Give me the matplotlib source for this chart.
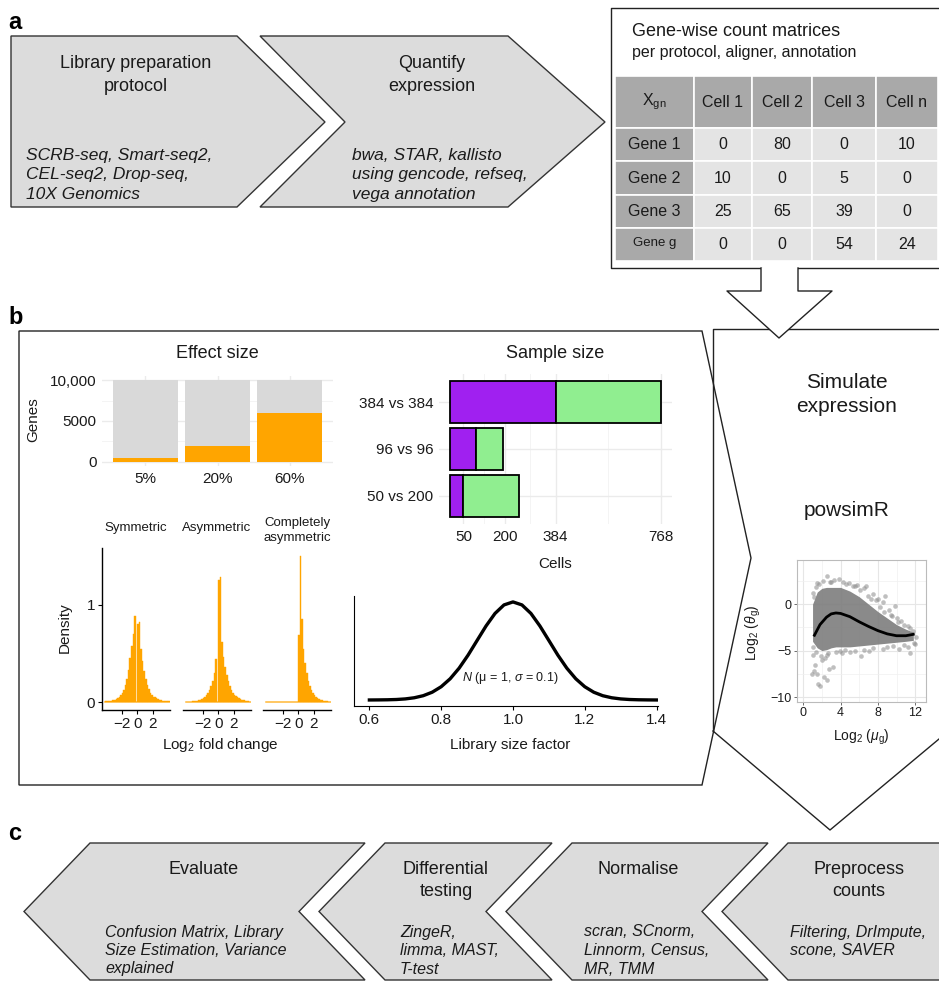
import matplotlib.pyplot as plt
from matplotlib.patches import Polygon, Rectangle
import numpy as np

plt.rcParams['font.family'] = ['Liberation Sans', 'DejaVu Sans']
plt.rcParams['mathtext.fontset'] = 'custom'
plt.rcParams['mathtext.rm'] = 'Liberation Sans'
plt.rcParams['mathtext.it'] = 'Liberation Sans:italic'
plt.rcParams['mathtext.bf'] = 'Liberation Sans:bold'

W, H = 939, 982
TXT = '#1a1a1a'
ORANGE = '#ffa500'
BOX = '#dcdcdc'

# ---- panel a: workflow steps and count table ----
a_titles = [['Library preparation', 'protocol'], ['Quantify', 'expression']]
a_tools = [['SCRB-seq, Smart-seq2,', 'CEL-seq2, Drop-seq,', '10X Genomics'],
           ['bwa, STAR, kallisto', 'using gencode, refseq,', 'vega annotation']]

cell_names = ['Cell 1', 'Cell 2', 'Cell 3', 'Cell n']
gene_names = ['Gene 1', 'Gene 2', 'Gene 3', 'Gene g']
counts = [[0, 80, 0, 10],
          [10, 0, 5, 0],
          [25, 65, 39, 0],
          [0, 0, 54, 24]]

# ---- panel b: effect size ----
effect_labels = ['5%', '20%', '60%']
de_genes = [500, 2000, 6000]
n_genes = 10000

# ---- panel b: sample size ----
sample_labels = ['50 vs 200', '96 vs 96', '384 vs 384']
group1 = [50, 96, 384]
group2 = [200, 96, 384]
cell_ticks = [50, 200, 384, 768]

# ---- panel b: log2 fold change densities ----
fc_types = ['Symmetric', 'Asymmetric', 'Completely\nasymmetric']
fc_bins = np.round(np.arange(-4.1, 4.11, 0.2), 1)
fc_sym = [0.01, 0.01, 0.012, 0.015, 0.018, 0.022, 0.028, 0.035, 0.045, 0.06, 0.08,
          0.1, 0.13, 0.18, 0.24, 0.33, 0.45, 0.58, 0.7, 0.88, 0.0,
          0.8, 0.82, 0.55, 0.42, 0.32, 0.24, 0.18, 0.14, 0.1, 0.08, 0.06,
          0.05, 0.04, 0.032, 0.026, 0.021, 0.017, 0.014, 0.012, 0.01, 0.01]
fc_asym = [0.005, 0.006, 0.007, 0.008, 0.01, 0.012, 0.015, 0.018, 0.022, 0.028, 0.035,
           0.045, 0.06, 0.08, 0.1, 0.13, 0.17, 0.22, 0.3, 0.44, 0.0,
           1.25, 1.28, 0.62, 0.46, 0.36, 0.28, 0.22, 0.17, 0.13, 0.1, 0.08,
           0.065, 0.05, 0.04, 0.032, 0.026, 0.02, 0.016, 0.013, 0.01, 0.008]
fc_comp = [0.0] * 21 + [0.69, 1.5, 0.85, 0.55, 0.4, 0.3, 0.22, 0.17, 0.13, 0.1, 0.08,
                        0.06, 0.045, 0.035, 0.027, 0.02, 0.015, 0.012, 0.01, 0.008, 0.006]

# ---- panel b: library size factor N(1, 0.1) ----
lib_x = np.linspace(0.6, 1.4, 33)
lib_density = [0.001, 0.004, 0.009, 0.020, 0.044, 0.091, 0.175, 0.317, 0.540, 0.863,
               1.295, 1.826, 2.420, 3.011, 3.521, 3.867, 3.989, 3.867, 3.521, 3.011,
               2.420, 1.826, 1.295, 0.863, 0.540, 0.317, 0.175, 0.091, 0.044, 0.020,
               0.009, 0.004, 0.001]

# ---- powsimR mean-dispersion ----
cloud_x = [1.0, 1.5, 2, 2.5, 3, 3.5, 4, 5, 6, 7, 8, 9, 10, 11, 11.8]
cloud_hi = [0.0, 1.3, 1.7, 1.8, 1.8, 1.8, 1.8, 1.4, 0.8, 0.0, -0.8, -1.5, -2.2, -2.7, -3.0]
cloud_lo = [-4.0, -4.7, -5.0, -4.9, -4.7, -4.6, -4.6, -4.6, -4.5, -4.4, -4.3, -4.2, -4.1, -4.0, -3.9]
out_x = [1.0, 1.3, 1.5, 1.6, 1.8, 2.0, 2.2, 2.5, 2.3, 2.8, 3.2, 1.2, 0.9, 2.7, 3.5, 4.2,
         5.0, 6.2, 7.0, 8.5, 10.3, 11.5, 11.2, 12.0, 2.5, 3.8, 4.6, 5.8, 6.5, 7.5, 8.0,
         8.5, 9.2, 9.5, 10.5, 11.2, 11.8, 1.5, 6.7, 9.8, 8.8, 1.1, 3.0, 5.5, 7.8, 10.0,
         1.2, 1.4, 1.7, 2.1, 2.9, 3.3, 4.3, 4.9, 5.3, 6.1, 6.9, 7.3, 8.2, 8.7, 9.4, 10.2,
         10.8, 11.5, 1.1, 1.4, 1.9, 2.6, 3.9, 4.5, 5.6, 6.5, 7.5, 9.0, 9.6, 10.8, 11.9, 12.1]
out_y = [-5.5, -6.5, -7.5, -8.6, -8.8, -6.0, -7.8, -8.2, -5.8, -7.0, -6.8, -7.2, -7.5,
         -5.3, -5.2, -5.3, -5.1, -5.6, -5.0, -4.8, -4.8, -5.3, -4.6, -4.3, 3.0, 2.7, 2.2,
         2.1, 1.7, 1.1, 0.6, 0.2, -0.6, -1.3, -1.8, -2.3, -2.9, 2.3, 2.0, -0.2, 0.9,
         1.2, 2.4, 2.0, 0.4, -1.5,
         0.8, 1.8, 2.2, 2.5, 2.4, 2.6, 2.4, 2.3, 1.9, 1.5, 0.9, 0.5, -0.3, -0.8, -1.2, -1.9,
         -2.2, -2.6, -4.6, -5.2, -5.6, -5.5, -5.0, -4.9, -5.0, -4.9, -4.7, -4.6, -4.5, -4.4,
         -4.2, -3.5]
trend_x = [1.2, 1.8, 2.5, 3, 3.5, 4, 5, 6, 7, 8, 9, 10, 11, 11.8]
trend_y = [-3.35, -2.2, -1.4, -1.05, -0.95, -1.0, -1.35, -1.9, -2.4, -2.85, -3.2, -3.4, -3.4, -3.25]

# ---- panel c ----
c_titles = [['Evaluate'], ['Differential', 'testing'], ['Normalise'], ['Preprocess', 'counts']]
c_tools = [['Confusion Matrix, Library', 'Size Estimation, Variance', 'explained'],
           ['ZingeR,', 'limma, MAST,', 'T-test'],
           ['scran, SCnorm,', 'Linnorm, Census,', 'MR, TMM'],
           ['Filtering, DrImpute,', 'scone, SAVER']]

fig = plt.figure(figsize=(W / 100, H / 100), dpi=100)
bg = fig.add_axes([0, 0, 1, 1])
bg.set_xlim(0, W)
bg.set_ylim(H, 0)
bg.axis('off')


def place(x0, y0, x1, y1):
    ax = fig.add_axes([x0 / W, 1 - y1 / H, (x1 - x0) / W, (y1 - y0) / H])
    ax.patch.set_alpha(0)
    return ax


def write(x, y, s, size=13, ha='center', **kw):
    bg.text(x, y, s, fontsize=size, ha=ha, va='center', color=TXT, **kw)


# panel letters
for lab, y in [('a', 22), ('b', 317), ('c', 833)]:
    bg.text(8, y, lab, fontsize=17, fontweight='bold', va='center', ha='left')

# panel a arrows
arrows_a = [[(11, 36), (237, 36), (325, 122), (237, 207), (11, 207)],
            [(260, 36), (508, 36), (605, 122), (508, 207), (260, 207), (345, 122)]]
centers_a = [136, 432]
lefts_a = [26, 352]
for k, pts in enumerate(arrows_a):
    bg.add_patch(Polygon(pts, closed=True, fc=BOX, ec='#333333', lw=1.0))
    for j, line in enumerate(a_titles[k]):
        write(centers_a[k], 63 + 23 * j, line)
    for j, line in enumerate(a_tools[k]):
        write(lefts_a[k], 155 + 19.5 * j, line, size=12.5, ha='left', style='italic')

# count table
bg.plot([761, 611, 611, 945, 945, 798], [268, 268, 8, 8, 268, 268], color='#222222', lw=1.0)
write(632, 31, 'Gene-wise count matrices', ha='left')
write(632, 52, 'per protocol, aligner, annotation', size=11.5, ha='left')
col_edges = [615, 694, 752, 812, 876, 938]
row_edges = [76, 128, 161, 195, 228, 261]
for r in range(5):
    for c in range(5):
        dark = r == 0 or c == 0
        bg.add_patch(Rectangle((col_edges[c], row_edges[r]), col_edges[c + 1] - col_edges[c],
                               row_edges[r + 1] - row_edges[r],
                               fc='#a9a9a9' if dark else '#e4e4e4', ec='white', lw=1.2))
        xc = (col_edges[c] + col_edges[c + 1]) / 2
        yc = (row_edges[r] + row_edges[r + 1]) / 2
        if r == 0 and c == 0:
            write(xc, yc, r'X$_\mathregular{gn}$', size=11.5)
        elif r == 0:
            write(xc, yc, cell_names[c - 1], size=11.5)
        elif c == 0:
            write(xc, yc - 2 if r == 4 else yc, gene_names[r - 1], size=9.5 if r == 4 else 11.5)
        else:
            write(xc, yc, str(counts[r - 1][c - 1]), size=11.5)

# arrow from table into simulation box
bg.plot([713, 713, 945], [731, 329, 329], color='#222222', lw=1.0)
bg.plot([713, 830, 945], [731, 830, 734], color='#222222', lw=1.0)
ax_pts = [(761, 268), (761, 291), (727, 291), (779, 338), (832, 291), (798, 291), (798, 268)]
bg.add_patch(Polygon(ax_pts, closed=True, fc='white', ec='none', zorder=5))
bg.plot([p[0] for p in ax_pts], [p[1] for p in ax_pts], color='#222222', lw=1.0, zorder=6)

# panel b outline
bg.add_patch(Polygon([(19, 331), (702, 331), (751, 558), (702, 785), (19, 785)],
                     closed=True, fill=False, ec='#222222', lw=1.0))

write(847, 382, 'Simulate', size=15)
write(847, 407, 'expression', size=15)
write(847, 510, 'powsimR', size=15)

# effect size bars
ax = place(102, 376, 333, 466)
pos = [1, 2, 3]
for y in [0, 5000, 10000]:
    ax.axhline(y, color='#ebebeb', lw=1.0, zorder=0)
for y in [2500, 7500]:
    ax.axhline(y, color='#f2f2f2', lw=0.6, zorder=0)
for x in pos:
    ax.axvline(x, color='#ebebeb', lw=1.0, zorder=0)
ax.bar(pos, [n_genes] * 3, width=0.9, color='#d9d9d9', zorder=2)
ax.bar(pos, de_genes, width=0.9, color=ORANGE, zorder=3)
ax.set_xlim(0.4, 3.6)
ax.set_ylim(-500, 10500)
ax.set_yticks([0, 5000, 10000])
ax.set_yticklabels(['0', '5000', '10,000'])
ax.set_xticks(pos)
ax.set_xticklabels(effect_labels)
ax.tick_params(length=0, labelsize=11, labelcolor=TXT, pad=4)
for s in ax.spines.values():
    s.set_visible(False)
write(217, 353, 'Effect size')
write(33, 420, 'Genes', size=11, rotation=90)

# sample size bars
ax = place(439, 374, 672, 524)
ypos = [1, 2, 3]
for x in cell_ticks:
    ax.axvline(x, color='#ebebeb', lw=1.0, zorder=0)
for a, b in zip(cell_ticks[:-1], cell_ticks[1:]):
    ax.axvline((a + b) / 2, color='#f2f2f2', lw=0.6, zorder=0)
for y in ypos:
    ax.axhline(y, color='#ebebeb', lw=1.0, zorder=0)
ax.barh(ypos, group1, height=0.9, color='#a020f0', edgecolor='black', lw=1.3, zorder=3)
ax.barh(ypos, group2, left=group1, height=0.9, color='#90ee90', edgecolor='black', lw=1.3, zorder=3)
ax.set_xlim(-38.4, 806.4)
ax.set_ylim(0.4, 3.6)
ax.set_xticks(cell_ticks)
ax.set_yticks(ypos)
ax.set_yticklabels(sample_labels)
ax.tick_params(length=0, labelsize=11, labelcolor=TXT, pad=4)
for s in ax.spines.values():
    s.set_visible(False)
write(555, 354, 'Sample size')
write(555, 564, 'Cells', size=11)

# fold change histograms
for i, heights in enumerate([fc_sym, fc_asym, fc_comp]):
    left = [102, 183, 263][i]
    ax = place(left, 548, left + 68, 709.7)
    ax.bar(fc_bins, heights, width=0.2, color=ORANGE, edgecolor=ORANGE, lw=0.3)
    ax.plot([-4.2, 4.2], [0.005, 0.005], color=ORANGE, lw=1.3, alpha=0.55)
    ax.set_xlim(-4.55, 4.23)
    ax.set_ylim(-0.075, 1.58)
    ax.spines['top'].set_visible(False)
    ax.spines['right'].set_visible(False)
    ax.spines['left'].set_visible(i == 0)
    ax.set_xticks([-2, 0, 2])
    ax.set_xticklabels(['\u22122', '0', '2'])
    if i == 0:
        ax.set_yticks([0, 1])
    else:
        ax.set_yticks([])
    ax.tick_params(labelsize=11, labelcolor=TXT, length=3, width=0.8, pad=2)
    for s in ax.spines.values():
        s.set_linewidth(1.0)
    lines = fc_types[i].split('\n')
    if len(lines) == 1:
        write(left + 34, 528, lines[0], size=9.5)
    else:
        write(left + 34, 523, lines[0], size=9.5)
        write(left + 34, 538, lines[1], size=9.5)
write(65, 628, 'Density', size=11, rotation=90)
write(220, 745, r'Log$_2$ fold change', size=11)

# library size factor
ax = place(354.3, 596, 658, 706)
ax.plot(lib_x, lib_density, color='black', lw=2.4)
ax.set_xlim(0.558, 1.404)
ax.set_ylim(-0.244, 4.23)
ax.spines['top'].set_visible(False)
ax.spines['right'].set_visible(False)
ax.set_yticks([])
ax.set_xticks([0.6, 0.8, 1.0, 1.2, 1.4])
ax.set_xticklabels(['0.6', '0.8', '1.0', '1.2', '1.4'])
ax.tick_params(labelsize=11, labelcolor=TXT, length=3, width=0.8, pad=2)
write(510, 678, r'$N$ (μ = 1, $\sigma$ = 0.1)', size=9)
write(510, 745, 'Library size factor', size=11)

# powsimR scatter
ax = place(796.7, 560, 925.7, 701.7)
for x in [0, 4, 8, 12]:
    ax.axvline(x, color='#e6e6e6', lw=0.8, zorder=0)
for x in [2, 6, 10]:
    ax.axvline(x, color='#f0f0f0', lw=0.5, zorder=0)
for y in [0, -5, -10]:
    ax.axhline(y, color='#e6e6e6', lw=0.8, zorder=0)
for y in [2.5, -2.5, -7.5]:
    ax.axhline(y, color='#f0f0f0', lw=0.5, zorder=0)
ax.fill_between(cloud_x, cloud_lo, cloud_hi, color='#7d7d7d', alpha=0.9, lw=0, zorder=2)
ax.scatter(out_x, out_y, s=11, color='#8c8c8c', alpha=0.55, lw=0, zorder=2)
ax.plot(trend_x, trend_y, color='black', lw=2.0, zorder=4)
ax.set_xlim(-0.7, 13.13)
ax.set_ylim(-10.5, 4.75)
ax.set_xticks([0, 4, 8, 12])
ax.set_yticks([0, -5, -10])
ax.set_yticklabels(['0', '\u22125', '\u221210'])
ax.tick_params(labelsize=9, labelcolor=TXT, length=2, width=0.6, pad=1.5, color='#555555')
for s in ax.spines.values():
    s.set_color('#bbbbbb')
    s.set_linewidth(0.8)
write(753, 633, r'Log$_2$ ($\theta_\mathregular{g}$)', size=10, rotation=90)
write(861, 737, r'Log$_2$ ($\mu_\mathregular{g}$)', size=10)

# panel c arrows (pointing left)
top, bot, mid, depth = 843, 980, 911.5, 66
spans = [(90, 365), (385, 552), (572, 768), (788, 945)]
for k, (xl, xr) in enumerate(spans):
    pts = [(xl - depth, mid), (xl, top), (xr, top)]
    if k < 3:
        pts += [(xr - depth, mid)]
    pts += [(xr, bot), (xl, bot)]
    bg.add_patch(Polygon(pts, closed=True, fc=BOX, ec='#333333', lw=1.0))
c_centers = [204, 446, 638, 859]
c_lefts = [105, 400, 584, 790]
for k in range(4):
    for j, line in enumerate(c_titles[k]):
        write(c_centers[k], 870 + 22 * j, line)
    for j, line in enumerate(c_tools[k]):
        write(c_lefts[k], 932 + 18.5 * j, line, size=11.5, ha='left', style='italic')

fig.savefig('out.png', dpi=100)
